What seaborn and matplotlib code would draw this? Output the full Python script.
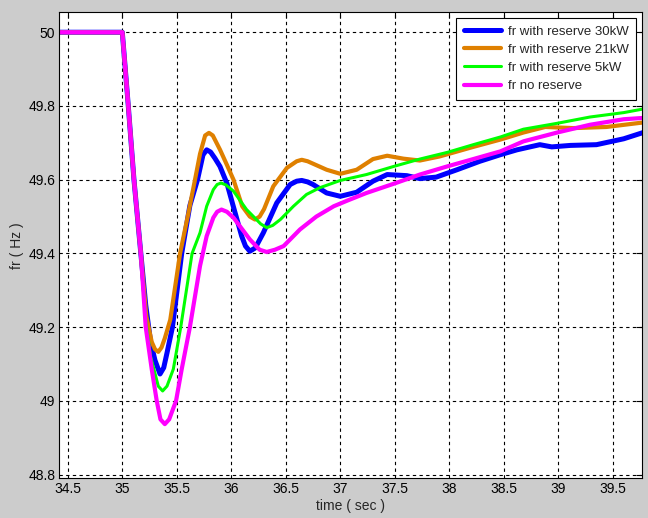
import matplotlib
matplotlib.use("Agg")
import matplotlib.pyplot as plt
import seaborn as sns

# series
t_30 = [34.40, 35.00, 35.055, 35.107, 35.17, 35.215, 35.26, 35.30, 35.346, 35.38, 35.41, 35.46,
        35.545, 35.62, 35.69, 35.74, 35.774, 35.81, 35.85, 35.896, 35.96, 36.018, 36.095, 36.13,
        36.17, 36.22, 36.294, 36.417, 36.54, 36.60, 36.646, 36.70, 36.75, 36.875, 37.0, 37.15,
        37.30, 37.43, 37.61, 37.73, 37.88, 38.07, 38.28, 38.47, 38.62, 38.83, 38.94, 39.11,
        39.35, 39.60, 39.80]
f_30 = [50.0, 50.0, 49.80, 49.60, 49.40, 49.26, 49.16, 49.11, 49.073, 49.09, 49.13, 49.20,
        49.40, 49.53, 49.60, 49.667, 49.681, 49.675, 49.658, 49.636, 49.59, 49.528, 49.447, 49.42,
        49.406, 49.415, 49.456, 49.537, 49.587, 49.596, 49.598, 49.594, 49.587, 49.564, 49.555, 49.566,
        49.596, 49.614, 49.611, 49.603, 49.607, 49.627, 49.650, 49.668, 49.681, 49.695, 49.689, 49.693,
        49.695, 49.711, 49.730]

t_21 = [34.40, 35.00, 35.055, 35.107, 35.17, 35.22, 35.27, 35.30, 35.33, 35.36, 35.39, 35.44,
        35.53, 35.60, 35.667, 35.713, 35.76, 35.795, 35.83, 35.897, 35.96, 36.02, 36.10, 36.17,
        36.217, 36.26, 36.30, 36.385, 36.51, 36.60, 36.646, 36.70, 36.875, 37.0, 37.15, 37.30,
        37.43, 37.58, 37.73, 37.91, 38.22, 38.47, 38.68, 38.88, 39.14, 39.44, 39.80]
f_21 = [50.0, 50.0, 49.80, 49.60, 49.40, 49.23, 49.16, 49.14, 49.133, 49.145, 49.17, 49.22,
        49.40, 49.50, 49.60, 49.670, 49.720, 49.727, 49.720, 49.681, 49.64, 49.600, 49.528, 49.50,
        49.492, 49.50, 49.520, 49.582, 49.632, 49.650, 49.654, 49.650, 49.627, 49.616, 49.627, 49.656,
        49.665, 49.657, 49.652, 49.663, 49.689, 49.709, 49.728, 49.743, 49.740, 49.743, 49.756]

t_5 = [34.40, 35.00, 35.055, 35.107, 35.17, 35.215, 35.26, 35.29, 35.33, 35.37, 35.41, 35.468,
       35.536, 35.64, 35.713, 35.774, 35.835, 35.87, 35.906, 35.95, 36.02, 36.14, 36.27,
       36.325, 36.38, 36.45, 36.57, 36.69, 36.81, 37.0, 37.24, 37.49, 37.73, 37.98, 38.22,
       38.47, 38.68, 38.99, 39.29, 39.60, 39.80]
f_5 = [50.0, 50.0, 49.80, 49.60, 49.40, 49.22, 49.12, 49.086, 49.04, 49.027, 49.04, 49.086,
       49.20, 49.40, 49.456, 49.528, 49.573, 49.587, 49.591, 49.586, 49.569, 49.519, 49.48,
       49.470, 49.476, 49.492, 49.528, 49.560, 49.578, 49.598, 49.614, 49.636, 49.656, 49.674, 49.695,
       49.716, 49.737, 49.753, 49.770, 49.782, 49.793]

t_0 = [34.40, 35.00, 35.055, 35.107, 35.17, 35.215, 35.27, 35.316, 35.35, 35.39, 35.43, 35.493,
       35.545, 35.62, 35.713, 35.774, 35.835, 35.87, 35.91, 35.96, 36.02, 36.17, 36.26, 36.325,
       36.40, 36.48, 36.63, 36.78, 36.94, 37.07, 37.24, 37.49, 37.73, 37.98, 38.22, 38.47,
       38.68, 38.99, 39.29, 39.60, 39.80]
f_0 = [50.0, 50.0, 49.80, 49.60, 49.40, 49.20, 49.086, 49.0, 48.95, 48.937, 48.95, 49.0,
       49.086, 49.20, 49.366, 49.447, 49.497, 49.513, 49.519, 49.513, 49.497, 49.438, 49.41, 49.404,
       49.41, 49.420, 49.465, 49.500, 49.528, 49.544, 49.564, 49.589, 49.614, 49.636, 49.656, 49.677,
       49.704, 49.728, 49.749, 49.764, 49.768]

labels = ['fr with reserve 30kW', 'fr with reserve 21kW', 'fr with reserve 5kW', 'fr no reserve']
colors = ['#0000FF', '#DF8000', '#00FF00', '#FF00FF']
widths = [3.6, 3.0, 2.2, 3.0]

sns.set_style("white")
plt.rcParams['font.family'] = ['Liberation Sans', 'DejaVu Sans']

fig = plt.figure(figsize=(6.48, 5.18), dpi=100, facecolor='#CCCCCC')
ax = fig.add_axes([0.0915, 0.0766, 0.8988, 0.8996])
ax.set_facecolor('white')

series = [(t_30, f_30), (t_21, f_21), (t_5, f_5), (t_0, f_0)]
for (t, f), lab, c, lw in zip(series, labels, colors, widths):
    sns.lineplot(x=t, y=f, ax=ax, color=c, linewidth=lw, label=lab, sort=False)

ax.set_xlim(34.422, 39.765)
ax.set_ylim(48.790, 50.054)
ax.set_xticks([34.5, 35, 35.5, 36, 36.5, 37, 37.5, 38, 38.5, 39, 39.5])
ax.set_xticklabels(['34.5', '35', '35.5', '36', '36.5', '37', '37.5', '38', '38.5', '39', '39.5'])
ax.set_yticks([48.8, 49, 49.2, 49.4, 49.6, 49.8, 50])
ax.set_yticklabels(['48.8', '49', '49.2', '49.4', '49.6', '49.8', '50'])
ax.grid(True, color='black', linestyle=(0, (3, 3)), linewidth=0.8)
ax.tick_params(direction='in', top=True, right=True, length=4, labelsize=10, colors='black', pad=3)
for s in ax.spines.values():
    s.set_color('black')
    s.set_linewidth(0.8)

ax.set_xlabel('time ( sec )', fontsize=10, labelpad=2)
ax.set_ylabel('fr ( Hz )', fontsize=10, labelpad=3)

leg = ax.legend(loc='upper right', fontsize=9.5, frameon=True, fancybox=False,
                handlelength=2.8, borderpad=0.6, labelspacing=0.45,
                borderaxespad=0.4, handletextpad=0.5)
leg.get_frame().set_edgecolor('black')
leg.get_frame().set_linewidth(0.8)
leg.get_frame().set_alpha(1.0)

fig.savefig('out.png', dpi=100, facecolor=fig.get_facecolor())
